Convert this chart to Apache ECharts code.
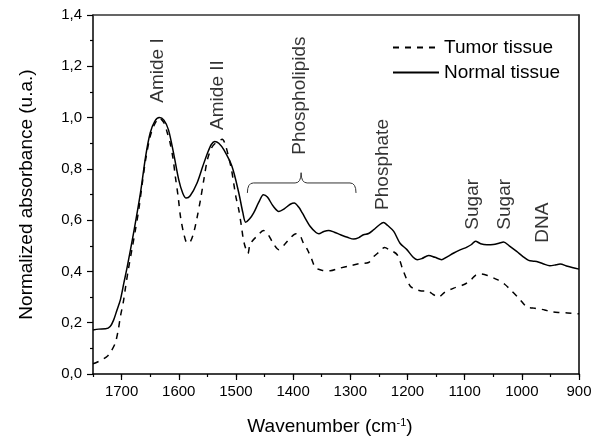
<!DOCTYPE html>
<html>
<head>
<meta charset="utf-8">
<script src="https://cdn.jsdelivr.net/npm/echarts@6/dist/echarts.min.js"></script>
<style>html,body{margin:0;padding:0;background:#fff}#c{width:592px;height:438px}</style>
</head>
<body>
<div id="c"></div>
<script>
var normalWavenumber = [1750,1740,1728,1720,1714,1708,1702,1696,1690,1679,1667,1658,1650,1642,1634,1626,1618,1609,1600,1593,1587,1580,1568,1558,1550,1543,1537,1530,1521,1507,1495,1488,1483,1476,1469,1460,1452,1445,1435,1425,1415,1405,1398,1390,1384,1370,1360,1355,1347,1338,1328,1317,1305,1294,1285,1277,1268,1259,1250,1242,1235,1224,1213,1201,1190,1183,1175,1163,1152,1140,1130,1119,1108,1096,1088,1081,1072,1061,1050,1040,1032,1022,1009,998,988,980,974,963,951,940,933,920,900];
var normalAbsorbance = [0.172,0.175,0.176,0.185,0.21,0.25,0.29,0.355,0.42,0.55,0.706,0.848,0.94,0.985,1.0,0.99,0.952,0.86,0.757,0.705,0.686,0.695,0.745,0.81,0.86,0.895,0.907,0.9,0.874,0.81,0.706,0.63,0.592,0.605,0.628,0.67,0.699,0.69,0.655,0.634,0.645,0.662,0.667,0.65,0.628,0.575,0.552,0.547,0.555,0.56,0.553,0.543,0.533,0.526,0.532,0.543,0.548,0.563,0.58,0.591,0.58,0.556,0.51,0.485,0.455,0.446,0.45,0.462,0.455,0.446,0.458,0.472,0.484,0.495,0.505,0.518,0.508,0.504,0.505,0.51,0.515,0.5,0.478,0.458,0.443,0.44,0.439,0.43,0.422,0.426,0.429,0.42,0.409];

var tumorWavenumber = [1750,1746,1735,1725,1718,1711,1706,1702,1697,1693,1688,1682,1676,1670,1664,1658,1650,1642,1634,1626,1620,1615,1610,1606,1601,1597,1591,1585,1580,1574,1568,1562,1556,1550,1543,1536,1524,1518,1513,1508,1504,1500,1495,1490,1487,1483,1479,1476,1472,1462,1452,1444,1435,1425,1415,1405,1395,1388,1382,1375,1368,1361,1350,1335,1320,1300,1285,1268,1259,1250,1240,1232,1218,1207,1195,1185,1178,1163,1155,1146,1135,1119,1102,1090,1081,1072,1060,1043,1030,1020,1005,991,980,974,960,951,935,920,900];
var tumorAbsorbance = [0.04,0.043,0.055,0.069,0.09,0.121,0.17,0.225,0.28,0.34,0.41,0.485,0.56,0.64,0.74,0.835,0.926,0.975,0.998,0.98,0.94,0.9,0.84,0.77,0.69,0.614,0.545,0.51,0.515,0.55,0.61,0.68,0.76,0.835,0.88,0.9,0.915,0.89,0.848,0.8,0.745,0.69,0.64,0.57,0.524,0.49,0.47,0.5,0.517,0.54,0.56,0.545,0.51,0.485,0.505,0.53,0.547,0.54,0.51,0.485,0.45,0.415,0.405,0.403,0.412,0.422,0.43,0.435,0.458,0.475,0.493,0.485,0.465,0.4,0.342,0.33,0.325,0.322,0.31,0.3,0.318,0.335,0.348,0.365,0.385,0.39,0.384,0.368,0.35,0.329,0.295,0.261,0.257,0.255,0.25,0.244,0.24,0.238,0.235];

var xTickValues = [900,1000,1100,1200,1300,1400,1500,1600,1700];
var yTickLabels = ['0,0','0,2','0,4','0,6','0,8','1,0','1,2','1,4'];

var annotationText = ['Amide I','Amide II','Phospholipids','Phosphate','Sugar','Sugar','DNA'];
var annotationWavenumber = [1637,1532,1389,1244,1085,1029,964];
var annotationBase = [1.058,0.952,0.855,0.64,0.563,0.563,0.512];

var braceWavenumber = [1480,1386,1290];
var braceLevels = [0.706,0.745,0.785]; // ends, bar, tip

var FONT = 'Liberation Sans, Arial, sans-serif';

function zip(a,b){return a.map(function(v,i){return [v,b[i]];});}

var chart = echarts.init(document.getElementById('c'), null, {renderer:'canvas'});
var baseX = {
  type:'value', min:900, max:1750, inverse:true, position:'bottom',
  splitLine:{show:false}
};
var option = {
  backgroundColor:'#fff',
  animation:false,
  textStyle:{fontFamily:FONT},
  grid:{left:93,right:13,top:15,bottom:64,outerBoundsMode:'none',show:false},
  legend:{
    orient:'vertical', left:387, top:33, itemWidth:46, itemHeight:14, itemGap:6,
    data:['Tumor tissue','Normal tissue'],
    itemStyle:{opacity:0},
    textStyle:{fontFamily:FONT,fontSize:19,color:'#000'},
    selectedMode:false
  },
  xAxis:[
    Object.assign({}, baseX, {
      interval:100,
      name:'Wavenumber (cm{sup|-1})', nameLocation:'middle', nameGap:43,
      nameTextStyle:{fontFamily:FONT,fontSize:19,color:'#000',padding:[0,12,0,0],
        rich:{sup:{fontFamily:FONT,fontSize:11,color:'#000',verticalAlign:'top',padding:[0,0,8,0]}}},
      axisLine:{show:true,onZero:false,lineStyle:{color:'#000',width:1.5}},
      axisTick:{show:true,length:6,inside:false,lineStyle:{color:'#000',width:1.2}},
      axisLabel:{fontFamily:FONT,fontSize:15,color:'#000',margin:10,showMaxLabel:false,
        formatter:function(v){return xTickValues.indexOf(v)>=0?String(v):'';}}
    }),
    Object.assign({}, baseX, {
      interval:50,
      axisLine:{show:false},
      axisTick:{show:true,length:3,inside:false,lineStyle:{color:'#000',width:1.2}},
      axisLabel:{show:false}
    }),
    Object.assign({}, baseX, {
      position:'top', interval:100,
      axisLine:{show:true,onZero:false,lineStyle:{color:'#333',width:1.5}},
      axisTick:{show:false}, axisLabel:{show:false}
    })
  ],
  yAxis:[
    {
      type:'value', min:0, max:1.4, interval:0.2, position:'left',
      name:'Normalized absorbance (u.a.)', nameLocation:'middle', nameGap:57,
      nameTextStyle:{fontFamily:FONT,fontSize:19,color:'#000'},
      axisLine:{show:true,onZero:false,lineStyle:{color:'#000',width:1.5}},
      axisTick:{show:true,length:6,lineStyle:{color:'#000',width:1.2}},
      minorTick:{show:true,splitNumber:2,length:3,lineStyle:{color:'#000',width:1.2}},
      splitLine:{show:false}, minorSplitLine:{show:false},
      axisLabel:{fontFamily:FONT,fontSize:15,color:'#000',margin:11,
        formatter:function(v){return yTickLabels[Math.round(v/0.2)];}}
    },
    {
      type:'value', min:0, max:1.4, interval:0.2, position:'right',
      axisLine:{show:true,onZero:false,lineStyle:{color:'#000',width:1.5}},
      axisTick:{show:false}, axisLabel:{show:false}, splitLine:{show:false}
    }
  ],
  series:[
    {
      name:'Tumor tissue', type:'line', xAxisIndex:0, yAxisIndex:0,
      data:zip(tumorWavenumber,tumorAbsorbance), showSymbol:false, symbol:'none',
      smooth:0.3, lineStyle:{color:'#000',width:1.5,type:[6,6]}, itemStyle:{color:'#000'}, z:3
    },
    {
      name:'Normal tissue', type:'line', xAxisIndex:0, yAxisIndex:0,
      data:zip(normalWavenumber,normalAbsorbance), showSymbol:false, symbol:'none',
      smooth:0.3, lineStyle:{color:'#000',width:1.5,type:'solid'}, itemStyle:{color:'#000'}, z:4
    },
    {
      name:'labels', type:'scatter', xAxisIndex:0, yAxisIndex:0,
      symbolSize:0, silent:true,
      data:annotationText.map(function(t,i){return {value:[annotationWavenumber[i],annotationBase[i]],name:t};}),
      label:{show:true,position:'inside',rotate:90,align:'left',verticalAlign:'middle',
        fontFamily:FONT,fontSize:19,color:'#000',formatter:function(p){return p.name;}}
    }
  ]
};
chart.setOption(option);

function P(x,y){return chart.convertToPixel({xAxisIndex:0,yAxisIndex:0},[x,y]);}
var a = P(braceWavenumber[0], braceLevels[0]);
var m = P(braceWavenumber[1], braceLevels[1]);
var t = P(braceWavenumber[1], braceLevels[2]);
var bE = P(braceWavenumber[2], braceLevels[0]);
var r = 6, yh = m[1];
var st = {stroke:'#333',lineWidth:1,fill:null};
chart.setOption({graphic:[
  {type:'bezierCurve',shape:{x1:a[0],y1:a[1],x2:a[0]+r,y2:yh,cpx1:a[0],cpy1:yh},style:st,z:10},
  {type:'line',shape:{x1:a[0]+r,y1:yh,x2:m[0]-r,y2:yh},style:st,z:10},
  {type:'bezierCurve',shape:{x1:m[0]-r,y1:yh,x2:t[0],y2:t[1],cpx1:m[0],cpy1:yh},style:st,z:10},
  {type:'bezierCurve',shape:{x1:t[0],y1:t[1],x2:m[0]+r,y2:yh,cpx1:m[0],cpy1:yh},style:st,z:10},
  {type:'line',shape:{x1:m[0]+r,y1:yh,x2:bE[0]-r,y2:yh},style:st,z:10},
  {type:'bezierCurve',shape:{x1:bE[0]-r,y1:yh,x2:bE[0],y2:bE[1],cpx1:bE[0],cpy1:yh},style:st,z:10}
]});
</script>
</body>
</html>
